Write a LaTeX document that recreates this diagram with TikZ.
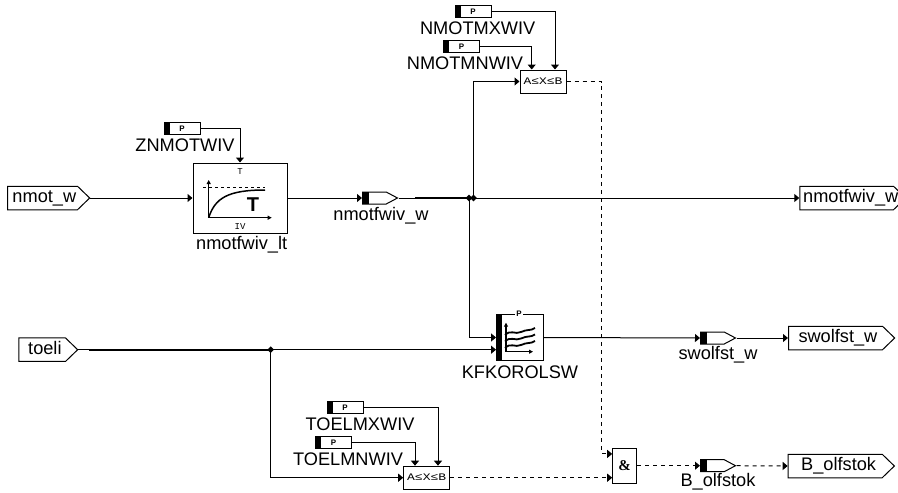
\documentclass[tikz,border=0pt]{standalone}
\usepackage{fontspec}
\setmainfont{Liberation Sans}
\setmonofont{Liberation Mono}
\newfontfamily\andfont{Liberation Serif}
\usetikzlibrary{arrows.meta,shapes.geometric,shapes.symbols}
\begin{document}
\begin{tikzpicture}[
      x=1pt, y=-1pt,
      every node/.style={font=\fontsize{18.2}{20}\selectfont, inner sep=0pt},
      every path/.style={line width=1pt},
      wire/.style={-{Triangle[length=5pt,width=8pt]}},
      dashwire/.style={wire, dash pattern=on 4pt off 4pt},
      thickwire/.style={line width=2pt},
      port/.style={signal, signal to=east, signal pointer angle=88, draw, anchor=west, align=left, text height=13pt, text depth=4pt, minimum height=23.5pt},
      probe/.style={signal, signal to=east, signal pointer angle=56, draw, anchor=west, fill=white, text width=23.7pt, minimum height=12pt,
        path picture={\fill[black] (path picture bounding box.north west) rectangle ([xshift=6pt]path picture bounding box.south west);}},
      param/.style={draw, minimum width=36pt, minimum height=12pt, font=\fontsize{8}{8}\selectfont\bfseries,
        path picture={\fill[black] (path picture bounding box.north west) rectangle ([xshift=5.5pt]path picture bounding box.south west);}},
      limit/.style={draw, minimum width=46pt, minimum height=23pt, font=\fontsize{10}{10}\ttfamily},
      dot/.style={diamond, fill=black, minimum size=7pt},
      tiny/.style={font=\fontsize{9}{9}\ttfamily},
      small/.style={-{Triangle[length=4pt,width=4pt]}}
    ]
    \useasboundingbox (0,0) rectangle (898,493);

    % inputs and outputs
    \node[port, inner xsep=5pt, text width=60pt] (nmot) at (7,198) {nmot\_w};
    \node[port, inner xsep=3.4pt, text width=86.9pt] (nmotfwivout) at (799.3,198) {nmotfwiv\_w};
    \node[port, inner xsep=9.4pt, text width=27.9pt] (toeli) at (18.3,349.7) {toeli};
    \node[port, inner xsep=10pt, text width=74pt] (swolfstout) at (788,338) {swolfst\_w};
    \node[port, inner xsep=13pt, text width=68pt] (olfstokout) at (787.7,466) {B\_olfstok};

    % blocks
    \node[draw, minimum width=94pt, minimum height=70pt] (lowpass) at (240,198) {};
    \node[draw, minimum width=46.5pt, minimum height=46.5pt] (kfkorolsw) at (519.8,337.5) {};
    \node[limit] (checkn) at (543,81.5) {\scalebox{1.3}[1]{A≤X≤B}};
    \node[limit] (checkt) at (426.7,477.7) {\scalebox{1.3}[1]{A≤X≤B}};
    \node[draw, minimum width=24pt, minimum height=35pt, font=\fontsize{15}{15}\andfont\bfseries] (andgate) at (624.7,465.7) {\&};

    % parameters
    \node[param] (znmotwiv) at (182,128.3) {P};
    \node[param] (nmotmx) at (473,11.7) {P};
    \node[param] (nmotmn) at (461.6,46.7) {P};
    \node[param] (toelmx) at (345,407.8) {P};
    \node[param] (toelmn) at (333.6,442.8) {P};

    % probes
    \node[probe] (nmotfwivprobe) at (362,198) {};
    \node[probe] (swolfstprobe) at (700,338) {};
    \node[probe] (olfstokprobe) at (700,465.7) {};

    % branch points
    \node[dot] (jointa) at (469,198) {};
    \node[dot] (jointb) at (473.5,198) {};
    \node[dot] (jointc) at (270.7,349.7) {};
    \coordinate (thicka) at (415,198);
    \coordinate (thickc) at (89,349.7);
    \coordinate (dashdrop) at (601.7,100);

    % texts
    \node (znmotlabel) at (185,145.7) {ZNMOTWIV};
    \node (lowpasslabel) at (241.7,245) {nmotfwiv\_lt};
    \node (nmotfwivlabel) at (381,216) {nmotfwiv\_w};
    \node (nmotmxlabel) at (477.7,28.5) {NMOTMXWIV};
    \node (nmotmnlabel) at (465,63.5) {NMOTMNWIV};
    \node (kflabel) at (520,372) {KFKOROLSW};
    \node (swolfstlabel) at (718,355) {swolfst\_w};
    \node (toelmxlabel) at (360,424) {TOELMXWIV};
    \node (toelmnlabel) at (348,459) {TOELMNWIV};
    \node (olfstoklabel) at (718,482) {B\_olfstok};

    % connectors
    \draw[wire] (nmot.east) -- (lowpass.west);
    \draw[wire] (znmotwiv.east) -| (lowpass.north);
    \draw[wire] (lowpass.east) -- (nmotfwivprobe.west);
    \draw (nmotfwivprobe.east) -- (thicka);
    \draw[thickwire] (thicka) -- (jointa.center);
    \draw[wire] (jointb.center) -- (nmotfwivout.west);
    \draw[wire] (jointb.center) |- (checkn.west);
    \draw[wire] (jointa.center) |- (kfkorolsw.west);
    \draw[wire] (nmotmx.east) -| ([xshift=12pt]checkn.north);
    \draw[wire] (nmotmn.east) -| ([xshift=-11.3pt]checkn.north);
    \draw (toeli.east) -- (thickc);
    \draw[thickwire] (thickc) -- (jointc.center);
    \draw[wire] (jointc.center) -- (kfkorolsw.west |- jointc.center);
    \draw[wire] (jointc.center) |- (checkt.west);
    \draw[wire] (toelmx.east) -| ([xshift=11.3pt]checkt.north);
    \draw[wire] (toelmn.east) -| ([xshift=-11.7pt]checkt.north);
    \draw[wire] (kfkorolsw.east) -- (swolfstprobe.west);
    \draw[wire] (swolfstprobe.east) -- (swolfstout.west);
    \draw[dashwire] (checkn.east) -| (dashdrop) |- ([yshift=11.8pt]andgate.west);
    \draw[dashwire] (checkt.east) -- ([yshift=-12pt]andgate.west);
    \draw[dashwire] (andgate.east) -- (olfstokprobe.west);
    \draw[dashwire] (olfstokprobe.east) -- (olfstokout.west);

    % inside the low pass block
    \node[tiny] (lowpasst) at (240,172) {T};
    \node[tiny] (lowpassiv) at (240,227) {IV};
    \node[font=\fontsize{20}{20}\selectfont\bfseries] (lowpasssym) at (253,205) {T};
    \draw[small] (208.7,217.7) -- (208.7,180);
    \draw[small] (208.7,217.7) -- (271.7,217.7);
    \draw[dashed, line width=0.8pt] (203,187) -- (265,187);
    \draw[line width=1.5pt] (208.7,217.7) .. controls (215,198) and (228,190) .. (265,190);

    % inside the map block
    \fill[black] (496.6,314.2) rectangle (502.3,360.8);
    \node[fill=white, inner sep=1pt, font=\fontsize{8}{8}\selectfont\bfseries] (kfparam) at (519,314) {P};
    \draw[small, line width=1.3pt] (506,351.7) -- (506,322.7);
    \draw[small, line width=1.3pt] (506,351.7) -- (533,351.7);
    \foreach \yshift in {0,6.5,13}
      \draw[line width=1.8pt] (505,\yshift+335) .. controls (511,\yshift+329) and (515,\yshift+335) .. (521,\yshift+332) .. controls (527,\yshift+329) and (531,\yshift+331) .. (535,\yshift+328);

  \end{tikzpicture}
\end{document}
